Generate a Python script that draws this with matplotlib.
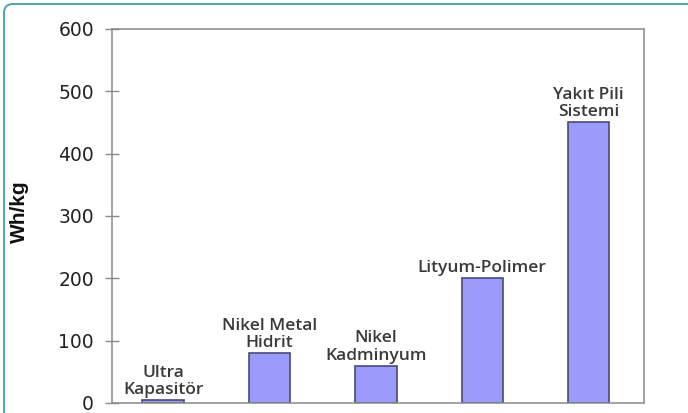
import matplotlib
matplotlib.use("Agg")
import matplotlib.pyplot as plt
from matplotlib.patches import FancyBboxPatch

# Energy density by storage technology
categories = ["Ultra\nKapasitör", "Nikel Metal\nHidrit", "Nikel\nKadminyum",
              "Lityum-Polimer", "Yakıt Pili\nSistemi"]
values = [5, 80, 60, 200, 450]
y_ticks = [0, 100, 200, 300, 400, 500, 600]
y_label = "Wh/kg"

W, H, DPI = 688, 413, 100
fig = plt.figure(figsize=(W / DPI, H / DPI), dpi=DPI)
fig.patch.set_facecolor("white")

# rounded teal frame around the figure
frame = FancyBboxPatch((4, -30), 720, 30 + H - 4,
                       boxstyle="round,pad=0,rounding_size=9",
                       transform=None, facecolor="none",
                       edgecolor="#3f9fa3", linewidth=1.3)
fig.add_artist(frame)

left, right, top, bottom = 112, 644, 29, 403
ax = fig.add_axes([left / W, 1 - bottom / H, (right - left) / W, (bottom - top) / H])

x = list(range(len(categories)))
bars = ax.bar(x, values, width=0.39, color="#9b9bfb",
              edgecolor="#4a4a7a", linewidth=1.2)

ax.set_xlim(-0.48, 4.52)
ax.set_ylim(0, 600)
ax.set_yticks(y_ticks)
ax.set_yticklabels([str(t) for t in y_ticks], fontsize=13.5,
                   family="DejaVu Sans", color="#222222")
ax.set_xticks([])
ax.tick_params(axis="y", direction="inout", length=10, width=1,
               color="#8a8a8a", pad=8)
for s in ax.spines.values():
    s.set_color("#8a8a8a")
    s.set_linewidth(1.1)

for xi, v, lab in zip(x, values, categories):
    ax.annotate(lab, (xi, v), xytext=(0, 1.5), textcoords="offset points",
                ha="center", va="bottom", fontsize=12.5,
                family="Open Sans", fontweight="semibold",
                color="#3a3a3a", linespacing=1.1)

fig.text(19.5 / W, 1 - 212 / H, y_label, rotation=90, ha="center",
         va="center", fontsize=15, fontweight="bold",
         family="Liberation Sans", color="#111111")

fig.savefig("out.png", dpi=DPI)
